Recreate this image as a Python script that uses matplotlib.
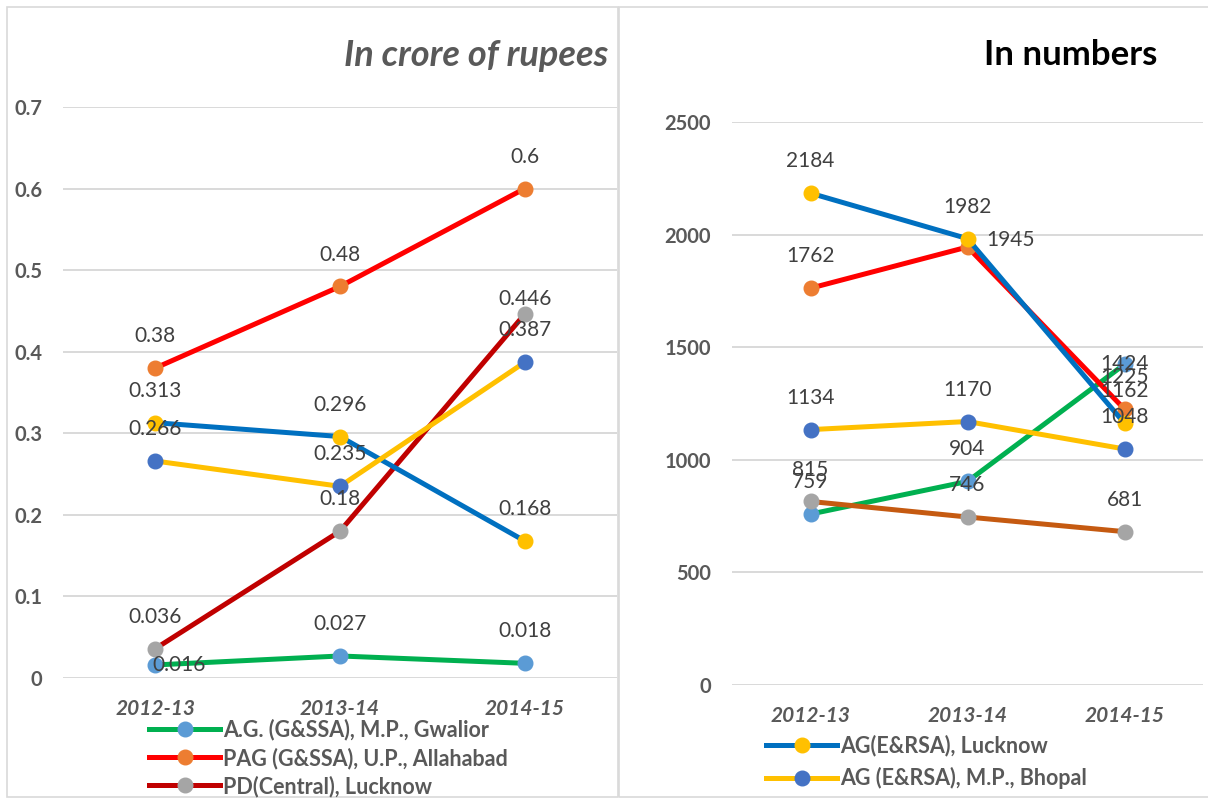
import matplotlib.pyplot as plt
from matplotlib.patches import Rectangle

plt.rcParams['font.family'] = ['Lato', 'DejaVu Sans']

years = ['2012-13', '2013-14', '2014-15']
names = ['A.G. (G&SSA), M.P., Gwalior', 'PAG (G&SSA), U.P., Allahabad',
         'PD(Central), Lucknow', 'AG(E&RSA), Lucknow', 'AG (E&RSA), M.P., Bhopal']

# amounts, in crore of rupees
gwalior_amt = [0.016, 0.027, 0.018]
allahabad_amt = [0.38, 0.48, 0.6]
pd_lucknow_amt = [0.036, 0.18, 0.446]
ag_lucknow_amt = [0.313, 0.296, 0.168]
bhopal_amt = [0.266, 0.235, 0.387]
amt_ticks = [0, 0.1, 0.2, 0.3, 0.4, 0.5, 0.6, 0.7]

# counts
gwalior_num = [759, 904, 1424]
allahabad_num = [1762, 1945, 1225]
pd_lucknow_num = [815, 746, 681]
ag_lucknow_num = [2184, 1982, 1162]
bhopal_num = [1134, 1170, 1048]
num_ticks = [0, 500, 1000, 1500, 2000, 2500]

GRID = '#D9D9D9'
TXT = '#595959'

left_styles = [('#00B050', '#5B9BD5'), ('#FF0000', '#ED7D31'), ('#C00000', '#A5A5A5'),
               ('#0070C0', '#FFC000'), ('#FFC000', '#4472C4')]
right_styles = [('#00B050', '#5B9BD5'), ('#FF0000', '#ED7D31'), ('#C55A11', '#A5A5A5'),
                ('#0070C0', '#FFC000'), ('#FFC000', '#4472C4')]


def draw(ax, series, styles, ticks, offsets):
    x = range(len(years))
    lines = []
    for i, (vals, name, (lc, mc)) in enumerate(zip(series, names, styles)):
        ln, = ax.plot(x, vals, color=lc, lw=3.6, marker='o', ms=10.5, mfc=mc, mec=mc,
                      label=name, clip_on=False, zorder=3 + i)
        lines.append(ln)
        for j, v in enumerate(vals):
            dx, dy = offsets.get((i, j), (0, 23))
            ax.annotate('%g' % v, (j, v), xytext=(dx, dy), textcoords='offset points',
                        ha='center', va='center', fontsize=15, color='#404040', zorder=20)
    ax.set_xlim(-0.5, len(years) - 0.5)
    ax.set_ylim(ticks[0], ticks[-1])
    ax.set_xticks(list(x))
    ax.set_xticklabels(years, fontsize=15, fontweight='bold', fontstyle='italic', color=TXT)
    ax.set_yticks(ticks)
    ax.set_yticklabels(['%g' % t for t in ticks], fontsize=14.5, fontweight='bold', color=TXT)
    ax.tick_params(axis='y', length=0, pad=15)
    ax.tick_params(axis='x', length=0, pad=15)
    ax.grid(axis='y', color=GRID, lw=1.4)
    ax.set_axisbelow(True)
    for s in ax.spines.values():
        s.set_visible(False)
    return lines


fig = plt.figure(figsize=(12.08, 8), dpi=100)
W, H = 1208, 800

# panel frames
fig.patches.append(Rectangle((7 / W, 1 - 797 / H), 611 / W, 790 / H, transform=fig.transFigure,
                             fill=False, ec=GRID, lw=1.2))
fig.patches.append(Rectangle((619 / W, 1 - 797 / H), 600 / W, 790 / H, transform=fig.transFigure,
                             fill=False, ec=GRID, lw=1.2))

ax1 = fig.add_axes([63 / W, 1 - 678 / H, 554 / W, 571 / H])
l1 = draw(ax1, [gwalior_amt, allahabad_amt, pd_lucknow_amt, ag_lucknow_amt, bhopal_amt],
          left_styles, amt_ticks, {(0, 0): (17, 0), (2, 2): (0, 11)})

ax2 = fig.add_axes([732 / W, 1 - 685 / H, 471 / W, 563 / H])
l2 = draw(ax2, [gwalior_num, allahabad_num, pd_lucknow_num, ag_lucknow_num, bhopal_num],
          right_styles, num_ticks, {(1, 1): (31, 5), (0, 2): (0, 0)})

leg_kw = dict(frameon=False, handlelength=3.3, handletextpad=0.15, borderpad=0,
              borderaxespad=0, numpoints=1, labelcolor=TXT,
              prop={'size': 15.5, 'weight': 'bold'}, bbox_transform=fig.transFigure, loc='upper left')
fig.legend(handles=l1[:3], bbox_to_anchor=(149 / W, 1 - 719 / H), labelspacing=0.3, **leg_kw)
fig.legend(handles=l2[3:], bbox_to_anchor=(766 / W, 1 - 735 / H), labelspacing=0.48, **leg_kw)

fig.text(608 / W, 1 - 55 / H, 'In crore of rupees', ha='right', va='center', fontsize=26,
         fontstyle='italic', fontweight='bold', color=TXT)
fig.text(1157 / W, 1 - 55 / H, 'In numbers', ha='right', va='center', fontsize=25,
         fontweight='bold', color='black')

fig.savefig('out.png', dpi=100)
